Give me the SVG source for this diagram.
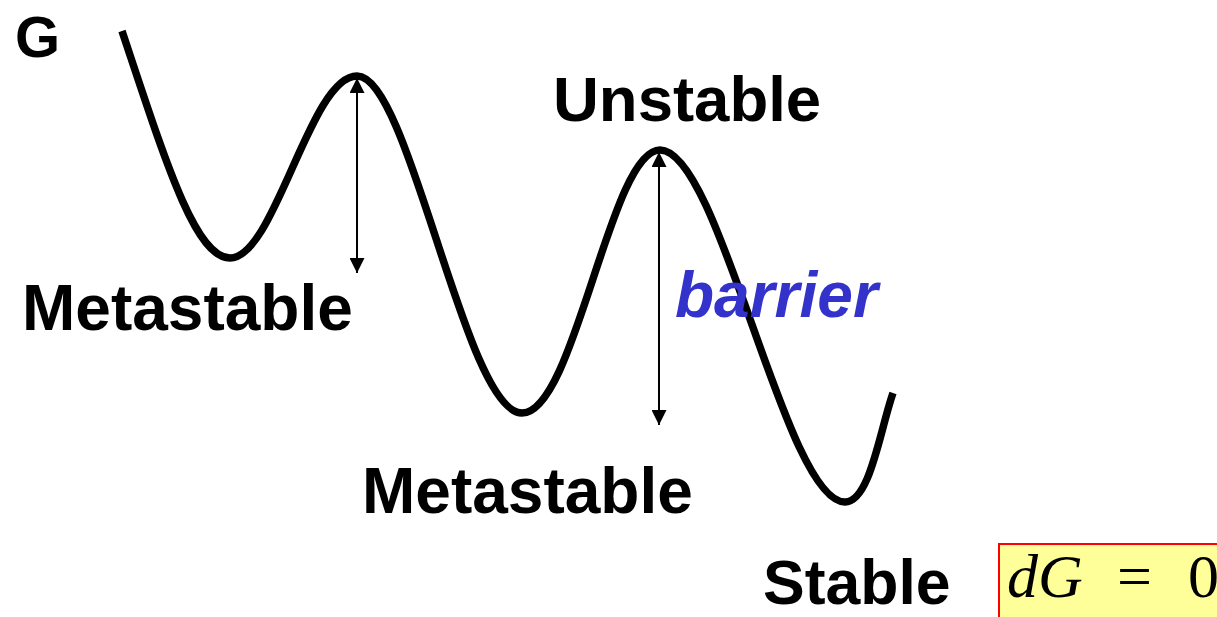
<svg xmlns="http://www.w3.org/2000/svg" width="1217" height="617" viewBox="0 0 1217 617">
<style>
.lbl{font-family:"Liberation Sans",Arial,sans-serif;font-weight:bold;fill:#000}
.arr{stroke:#000;stroke-width:2;fill:none;marker-start:url(#ah);marker-end:url(#ah)}
</style>
<defs>
<marker id="ah" viewBox="0 0 10 10" preserveAspectRatio="none" refX="10" refY="5" markerWidth="15" markerHeight="15" markerUnits="userSpaceOnUse" orient="auto-start-reverse">
<path d="M0,0 L10,5 L0,10 Z" fill="#000"/>
</marker>
</defs>
<rect width="1217" height="617" fill="#fff"/>
<g id="curve">
<path d="M122,31 C165,160 195,258 230,258 C275,258 310,76 357,76 C410,76 465,413 522,413 C575,413 610,150 660,150 C720,150 785,502 845,502 C870,502 880,430 893,393" fill="none" stroke="#000" stroke-width="7.5"/>
</g>
<g id="connectors">
<line class="arr" x1="357" y1="78" x2="357" y2="273"/>
<line class="arr" x1="659" y1="152" x2="659" y2="425"/>
</g>
<g id="axis-label"><text class="lbl" x="15" y="57" font-size="58">G</text></g>
<g id="metastable1"><text class="lbl" x="22" y="330" font-size="64">Metastable</text></g>
<g id="metastable2"><text class="lbl" x="362" y="513" font-size="64">Metastable</text></g>
<g id="unstable"><text class="lbl" x="553" y="121" font-size="63.5">Unstable</text></g>
<g id="stable"><text class="lbl" x="763" y="604" font-size="62.5">Stable</text></g>
<g id="barrier"><text x="675" y="317" font-size="64" font-family="Liberation Sans,Arial,sans-serif" font-weight="bold" font-style="italic" fill="#3333cc">barrier</text></g>
<g id="equation">
<rect x="999" y="544" width="230" height="90" fill="#ffff99" stroke="#ff0000" stroke-width="2"/>
<text y="597" font-size="62" font-family="Liberation Serif,'Times New Roman',serif" fill="#000"><tspan x="1007" font-style="italic">dG</tspan><tspan x="1117">=</tspan><tspan x="1188">0</tspan></text>
</g>
</svg>
